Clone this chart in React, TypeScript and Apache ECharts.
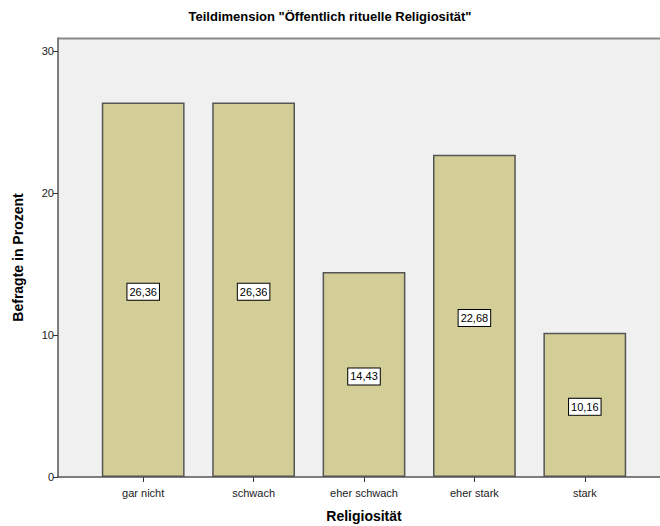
import React, { useEffect, useRef } from "react";
import * as echarts from "echarts";

const categories = ["gar nicht", "schwach", "eher schwach", "eher stark", "stark"];
const values = [26.36, 26.36, 14.43, 22.68, 10.16];
const yTicks = [0, 10, 20, 30];

const FONT = "'Liberation Sans', Arial, sans-serif";

export default function App() {
  const ref = useRef<HTMLDivElement>(null);
  useEffect(() => {
    if (!ref.current) return;
    const chart = echarts.init(ref.current, undefined, { renderer: "svg" });
    chart.setOption({
      animation: false,
      backgroundColor: "#ffffff",
      textStyle: { fontFamily: FONT },
      title: {
        text: 'Teildimension "Öffentlich rituelle Religiosität"',
        left: "center",
        top: 5,
        textStyle: { fontFamily: FONT, fontSize: 13, fontWeight: "bold", color: "#000" },
      },
      grid: { left: 88, right: 20, top: 38, bottom: 49, containLabel: false, outerBoundsMode: "none" },
      graphic: [
        {
          type: "rect",
          z: -10,
          silent: true,
          shape: { x: 58, y: 38, width: 602, height: 439 },
          style: { fill: "#f0f0f0" },
        },
        {
          type: "line",
          z: 10,
          silent: true,
          shape: { x1: 58, y1: 38.5, x2: 660, y2: 38.5 },
          style: { stroke: "#8a8a8a", lineWidth: 2 },
        },
        {
          type: "line",
          z: 10,
          silent: true,
          shape: { x1: 57, y1: 477, x2: 660, y2: 477 },
          style: { stroke: "#555", lineWidth: 1.5 },
        },
      ],
      xAxis: {
        type: "category",
        data: categories,
        name: "Religiosität",
        nameLocation: "middle",
        nameGap: 32,
        nameTextStyle: { fontFamily: FONT, fontSize: 14, fontWeight: "bold", color: "#000" },
        axisLine: { show: false },
        axisTick: { show: true, alignWithLabel: true, length: 5, lineStyle: { color: "#333" } },
        axisLabel: { fontFamily: FONT, fontSize: 11, color: "#222", margin: 10 },
        splitLine: { show: false },
      },
      yAxis: {
        type: "value",
        min: 0,
        max: 30.9,
        interval: 10,
        offset: 30,
        name: "Befragte in Prozent",
        nameLocation: "middle",
        nameGap: 33,
        nameTextStyle: { fontFamily: FONT, fontSize: 14, fontWeight: "bold", color: "#000" },
        axisLine: { show: true, lineStyle: { color: "#555", width: 1.5 } },
        axisTick: { show: true, length: 5, customValues: yTicks, lineStyle: { color: "#333" } },
        axisLabel: { fontFamily: FONT, fontSize: 11, color: "#222", margin: 4, customValues: yTicks },
        splitLine: { show: false },
      },
      series: [
        {
          type: "bar",
          data: values,
          barWidth: "75%",
          itemStyle: { color: "#d3ce97", borderColor: "#555", borderWidth: 1.5 },
          label: {
            show: true,
            position: "inside",
            offset: [0, 2],
            formatter: (p: any) => p.value.toFixed(2).replace(".", ","),
            fontFamily: FONT,
            fontSize: 11,
            color: "#000",
            backgroundColor: "#fff",
            borderColor: "#000",
            borderWidth: 1,
            padding: [3, 2, 2, 2],
          },
        },
      ],
    });
    return () => chart.dispose();
  }, []);
  return (
    <div
      ref={ref}
      style={{ position: "fixed", left: 0, top: 0, width: 660, height: 526 }}
    />
  );
}
